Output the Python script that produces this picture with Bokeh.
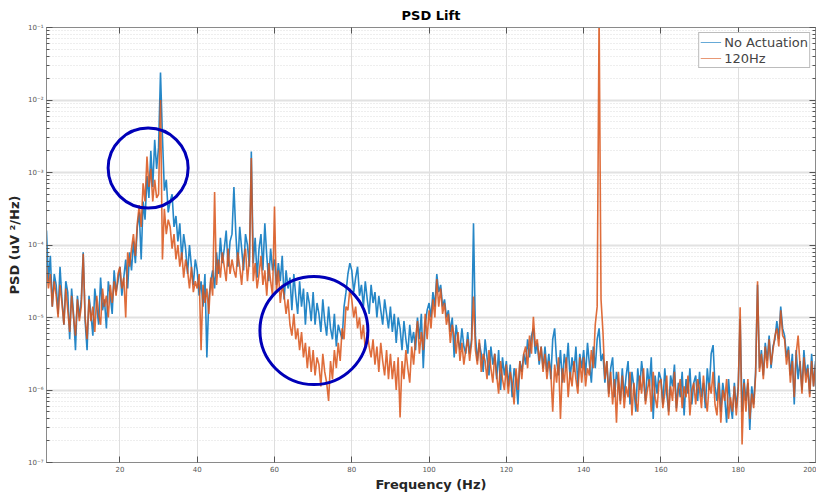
import numpy as np
from bokeh.plotting import figure
from bokeh.models import (FixedTicker, CustomJSTickFormatter, LogAxis, LinearAxis,
                          Range1d, ColumnDataSource, Legend, LegendItem)
from bokeh.embed import file_html
from bokeh.resources import INLINE

# ---------------- data ----------------
# PSD bins: 1.0 Hz to 200.0 Hz, 0.5 Hz apart
FREQ_START_HZ = 1.0
FREQ_STEP_HZ = 0.5

# log10(PSD) of "No Actuation"
no_act_log10_001_050 = [
    -3.8, -4.5, -4.15, -4.85, -4.4, -4.55, -4.95, -4.3, -4.75, -5.1, -4.5, -4.65, -5.3, -4.6, -4.95, -5.45, -4.7, -5.0,
    -4.75, -4.1, -5.05, -5.45, -4.7, -4.95, -5.25, -4.6, -4.85, -5.1, -4.45, -4.9, -4.75, -5.15, -4.5, -4.7, -4.95, -4.35, -4.65, -4.5,
    -4.3, -4.7, -4.45, -4.2, -4.6, -4.1, -4.35, -3.95, -4.25, -3.75, -3.55, -4.2, -3.4, -3.65, -3.05, -3.35, -2.7, -3.2, -2.55, -2.95,
    -2.65, -1.62, -2.5, -3.25, -3.1, -3.55, -3.4, -3.3, -3.75, -3.6, -3.95, -3.7, -4.2, -3.85, -4.05, -4.4, -4.0, -4.3, -4.55, -4.2,
    -4.35, -4.7, -4.5, -4.85, -4.4, -5.55, -4.75, -4.5, -4.35, -4.6, -4.1, -4.4, -3.9, -4.25, -4.05, -3.8, -4.3, -3.95, -3.85, -3.2,
]
no_act_log10_050_100 = [
    -3.85, -4.3, -3.75, -4.05, -4.35, -3.85, -4.0, -4.3, -2.71, -4.25, -3.9, -4.45, -4.05, -3.85, -4.35, -3.7, -4.15, -4.5, -4.05, -4.35,
    -4.2, -4.55, -4.25, -4.5, -4.15, -4.75, -4.35, -4.6, -4.45, -4.9, -4.4, -4.7, -4.95, -4.5, -4.85, -4.6, -5.1, -4.65, -4.8, -5.05,
    -4.65, -5.1, -4.8, -4.95, -5.2, -4.75, -5.05, -5.25, -4.85, -5.15, -5.3, -4.95, -5.4, -5.1, -5.2, -5.3, -4.85, -4.65, -4.4, -4.25,
    -4.35, -4.65, -4.45, -4.3, -4.7, -4.55, -4.85, -4.5, -4.75, -4.95, -4.55, -4.8, -4.65, -5.0, -4.7, -4.9, -5.1, -4.75, -4.95, -5.15,
    -4.85, -5.2, -4.95, -5.35, -5.0, -5.15, -5.45, -5.05, -5.3, -5.5, -5.1, -5.35, -5.2, -5.45, -5.0, -5.3, -4.95, -5.7, -5.1, -4.9,
]
no_act_log10_100_150 = [
    -4.8, -5.0, -4.65, -4.85, -4.4, -4.65, -4.55, -4.85, -4.75, -5.0, -4.9, -5.2, -5.0, -5.55, -5.1, -5.3, -5.45, -5.15, -5.4, -5.5,
    -5.2, -5.5, -5.3, -3.7, -5.25, -5.6, -5.35, -5.5, -5.75, -5.3, -5.55, -5.8, -5.4, -5.65, -5.5, -5.85, -5.45, -6.0, -5.55, -5.8,
    -5.6, -5.95, -5.65, -6.1, -5.7, -5.85, -6.2, -5.6, -5.75, -5.5, -5.65, -5.3, -5.55, -5.25, -5.15, -5.5, -5.35, -5.65, -5.4, -5.7,
    -5.4, -5.75, -5.5, -5.85, -5.3, -5.15, -5.6, -5.8, -5.45, -5.9, -5.5, -5.7, -5.35, -5.85, -5.55, -5.75, -5.4, -5.95, -5.5, -5.7,
    -5.45, -5.8, -5.35, -5.65, -5.9, -5.4, -5.7, -5.3, -5.15, -5.6, -5.5, -5.9, -5.6, -6.05, -5.7, -5.55, -6.1, -5.75, -5.9, -6.15,
]
no_act_log10_150_200 = [
    -5.7, -6.1, -5.8, -5.6, -6.2, -5.75, -5.95, -6.3, -5.7, -6.0, -5.6, -5.85, -6.15, -5.7, -5.95, -5.55, -6.4, -5.8, -6.05, -5.75,
    -5.85, -6.2, -5.7, -6.05, -6.3, -5.8, -5.95, -5.65, -6.25, -5.9, -6.1, -5.75, -6.35, -5.85, -6.05, -5.7, -6.2, -5.9, -5.8, -6.15,
    -5.75, -6.1, -5.9, -6.25, -5.7, -6.0, -5.5, -5.38, -5.95, -6.15, -5.8, -6.3, -5.9, -6.1, -6.45, -5.85, -6.2, -6.4, -5.9, -6.25,
    -5.95, -5.02, -6.3, -5.85, -6.15, -5.9, -6.55, -5.95, -6.2, -5.75, -4.55, -5.7, -5.45, -5.8, -5.35, -5.6, -5.25, -5.7, -5.4, -5.3,
    -5.05, -5.3, -4.85, -5.15, -5.25, -5.55, -5.4, -5.8, -5.5, -6.2, -5.45, -5.85, -5.6, -6.0, -5.45, -5.8, -5.65, -6.05, -5.5, -5.95, -5.6,
]

# log10(PSD) of "120Hz" actuation
act120_log10_001_050 = [
    -4.3, -4.6, -4.4, -4.85, -4.5, -4.7, -5.0, -4.55, -4.8, -5.1, -4.6, -4.9, -5.2, -4.7, -5.0, -5.25, -4.75, -5.05,
    -4.85, -4.12, -5.0, -5.3, -4.75, -5.05, -4.85, -5.2, -4.7, -4.95, -5.1, -4.6, -4.85, -4.7, -5.0, -4.55, -4.8, -4.5, -4.7, -4.4,
    -4.3, -4.6, -4.45, -5.0, -4.1, -4.3, -4.05, -3.85, -4.15, -3.7, -3.45, -3.75, -3.15, -3.4, -2.78, -3.2, -2.95, -3.4, -3.1, -3.35,
    -3.3, -2.0, -4.2, -3.5, -3.85, -3.65, -3.75, -4.05, -3.85, -4.2, -4.0, -4.3, -4.1, -4.45, -4.2, -4.35, -4.6, -4.3, -4.65, -4.5,
    -4.6, -4.4, -5.45, -4.55, -4.8, -4.6, -4.95, -4.45, -4.7, -3.27, -4.55, -4.2, -4.45, -4.1, -4.3, -4.5, -4.05, -4.4, -4.2, -4.35,
]
act120_log10_050_100 = [
    -4.45, -4.1, -4.3, -4.55, -4.2, -4.05, -4.5, -4.2, -2.8, -4.5, -4.25, -4.6, -4.4, -4.15, -4.55, -4.35, -4.7, -4.25, -4.5, -4.7,
    -3.47, -4.65, -4.35, -4.8, -4.55, -4.7, -4.95, -4.75, -5.1, -5.25, -4.95, -5.3, -5.15, -5.45, -5.2, -5.55, -5.35, -5.7, -5.4, -5.75,
    -5.45, -5.8, -5.55, -5.65, -5.95, -5.5, -5.75, -5.9, -6.15, -5.6, -5.85, -5.45, -5.7, -5.35, -5.6, -5.15, -5.3, -4.85, -4.9, -4.6,
    -4.75, -5.0, -4.85, -5.15, -5.0, -5.3, -5.1, -5.45, -5.2, -5.4, -5.55, -5.3, -5.65, -5.4, -5.75, -5.35, -5.6, -5.8, -5.45, -5.85,
    -5.5, -5.85, -5.6, -6.0, -5.55, -6.38, -5.6, -5.85, -5.45, -5.7, -5.9, -5.4, -5.65, -5.3, -5.05, -5.5, -5.2, -5.45, -4.95, -5.3,
]
act120_log10_100_150 = [
    -4.9, -5.15, -4.75, -5.0, -4.47, -4.85, -4.6, -4.95, -4.8, -5.1, -4.95, -5.35, -5.1, -5.25, -5.5, -5.2, -5.6, -5.35, -5.65, -5.45,
    -5.3, -5.6, -5.35, -4.71, -5.45, -5.65, -5.3, -5.75, -5.5, -5.6, -5.85, -5.45, -5.7, -5.9, -5.5, -5.8, -6.05, -5.6, -5.85, -6.0,
    -5.65, -6.05, -5.75, -5.9, -6.2, -5.7, -6.0, -5.6, -5.85, -5.5, -5.4, -5.7, -5.25, -5.5, -4.99, -5.4, -5.3, -5.6, -5.4, -5.75,
    -5.5, -5.85, -5.6, -5.75, -6.3, -5.65, -5.9, -5.55, -6.4, -5.7, -5.9, -5.55, -6.1, -5.75, -5.95, -5.6, -5.85, -6.05, -5.55, -5.9,
    -5.55, -5.95, -5.7, -5.8, -5.45, -5.7, -5.1, -4.85, -0.8, -4.75, -5.2, -5.85, -5.6, -6.1, -5.75, -6.2, -5.85, -6.45, -5.75, -6.2,
]
act120_log10_150_200 = [
    -5.8, -6.25, -5.95, -6.1, -5.75, -6.35, -5.9, -6.15, -6.3, -5.8, -6.05, -5.7, -6.2, -6.0, -5.85, -6.3, -5.75, -6.1, -6.25, -5.9,
    -5.85, -6.25, -6.05, -5.8, -6.35, -5.95, -6.15, -5.75, -6.3, -6.0, -5.85, -6.25, -5.95, -6.1, -5.8, -6.35, -6.0, -5.9, -6.2, -5.85,
    -6.0, -6.25, -5.8, -6.1, -6.3, -5.9, -6.05, -5.75, -6.2, -6.35, -5.9, -6.45, -6.0, -6.15, -5.85, -6.4, -6.1, -6.3, -5.95, -6.35,
    -6.0, -4.86, -6.75, -5.9, -6.3, -5.85, -6.4, -6.05, -6.25, -5.8, -4.5, -5.75, -5.5, -5.85, -5.4, -5.7, -5.3, -5.65, -5.45, -5.25,
    -5.15, -5.4, -4.9, -5.25, -5.3, -5.65, -5.45, -5.9, -5.6, -6.1, -5.5, -5.25, -5.65, -6.05, -5.55, -5.9, -5.7, -6.1, -5.6, -5.95, -5.65,
]

# hand-drawn highlight circles (centre in data coordinates)
highlight_freq_hz = [27.3, 70.2]
highlight_psd = [1.15e-3, 6.6e-6]

series_names = ["No Actuation", "120Hz"]
x_ticks = [20, 40, 60, 80, 100, 120, 140, 160, 180, 200]
y_decades = [-7, -6, -5, -4, -3, -2, -1]

# ---------------- assemble ----------------
no_act_log = np.array(no_act_log10_001_050 + no_act_log10_050_100 + no_act_log10_100_150 + no_act_log10_150_200)
act_log = np.array(act120_log10_001_050 + act120_log10_050_100 + act120_log10_100_150 + act120_log10_150_200)
assert len(no_act_log) == len(act_log) == 399, (len(no_act_log), len(act_log))
freq = FREQ_START_HZ + FREQ_STEP_HZ * np.arange(len(no_act_log))

src = ColumnDataSource(dict(f=freq, no_act=10.0 ** no_act_log, act=10.0 ** act_log))

BLUE = "#0072BD"
ORANGE = "#D95319"
FONT = "DejaVu Sans"

p = figure(width=816, height=494, y_axis_type="log",
           x_range=Range1d(1, 200), y_range=Range1d(1e-7, 1e-1),
           output_backend="svg", toolbar_location=None,
           min_border_left=46, min_border_right=1, min_border_top=27, min_border_bottom=29)

p.background_fill_color = "white"
p.border_fill_color = "white"
p.outline_line_color = "#8a8a8a"

p.line("f", "no_act", source=src, line_color=BLUE, line_width=1.6, line_alpha=0.85,
       line_join="bevel")
p.line("f", "act", source=src, line_color=ORANGE, line_width=1.6, line_alpha=0.85,
       line_join="bevel")

# thin swatches for the legend (a single undefined point, never drawn in the plot)
nan_src = ColumnDataSource(dict(x=[np.nan], y=[np.nan]))
leg_blue = p.line("x", "y", source=nan_src, line_color=BLUE, line_width=1.2, line_alpha=0.6)
leg_orange = p.line("x", "y", source=nan_src, line_color=ORANGE, line_width=1.2, line_alpha=0.6)

p.scatter(highlight_freq_hz, highlight_psd, marker="circle", size=[80, 108],
          fill_alpha=0, line_color="#0000b8", line_width=3)

# ticks
y_major = [10.0 ** d for d in y_decades]
y_minor = [m * 10.0 ** d for d in y_decades[:-1] for m in range(2, 10)]
yticker = FixedTicker(ticks=y_major, minor_ticks=y_minor)
xticker = FixedTicker(ticks=x_ticks)

sup_js = r"""
const sup = {"-": "\u207b", "0": "\u2070", "1": "\u00b9", "2": "\u00b2", "3": "\u00b3",
             "4": "\u2074", "5": "\u2075", "6": "\u2076", "7": "\u2077", "8": "\u2078", "9": "\u2079"};
const e = Math.round(Math.log10(tick));
return "10" + String(e).split("").map(c => sup[c]).join("");
"""

def style_axis(ax):
    ax.axis_line_color = "#8a8a8a"
    ax.major_tick_line_color = "#555555"
    ax.minor_tick_line_color = "#555555"
    ax.major_tick_in = 6
    ax.major_tick_out = 0
    ax.minor_tick_in = 3
    ax.minor_tick_out = 0
    ax.major_label_text_font = FONT
    ax.major_label_text_font_size = "7px"
    ax.major_label_text_color = "#555555"
    ax.axis_label_text_font = FONT
    ax.axis_label_text_font_size = "13px"
    ax.axis_label_text_font_style = "bold"
    ax.axis_label_text_color = "#262626"

xa = p.xaxis[0]
xa.ticker = xticker
xa.axis_label = "Frequency (Hz)"
style_axis(xa)
xa.minor_tick_in = 0
xa.major_label_standoff = 3
xa.axis_label_standoff = 2

ya = p.yaxis[0]
ya.ticker = yticker
ya.formatter = CustomJSTickFormatter(code=sup_js)
ya.axis_label = "PSD (uV \u00b2/Hz)"
style_axis(ya)
ya.major_label_standoff = 3
ya.axis_label_standoff = 3

blank = CustomJSTickFormatter(code="return '';")
top = LinearAxis(ticker=xticker, formatter=blank)
style_axis(top)
top.minor_tick_in = 0
top.major_label_standoff = 0
p.add_layout(top, "above")

right = LogAxis(ticker=yticker, formatter=blank)
style_axis(right)
right.major_label_standoff = 0
p.add_layout(right, "right")

# grids
p.xgrid.ticker = xticker
p.xgrid.grid_line_color = "#dedede"
p.ygrid.ticker = yticker
p.ygrid.grid_line_color = "#e2e2e2"
p.ygrid.grid_line_width = 2
p.ygrid.minor_grid_line_color = "#dcdcdc"
p.ygrid.minor_grid_line_dash = "1 2"

# title
p.title.text = "PSD Lift"
p.title.align = "center"
p.title.text_font = FONT
p.title.text_font_size = "13px"
p.title.text_font_style = "bold"
p.title.text_color = "#000000"

# legend
lg = Legend(items=[LegendItem(label=series_names[0], renderers=[leg_blue]),
                   LegendItem(label=series_names[1], renderers=[leg_orange])])
lg.location = "top_right"
lg.margin = 5
lg.padding = 1
lg.spacing = 0
lg.label_text_font = FONT
lg.label_text_font_size = "13px"
lg.label_height = 16
lg.glyph_height = 16
lg.glyph_width = 21
lg.label_standoff = 3
lg.border_line_color = "#7a7a7a"
lg.border_line_width = 1
lg.background_fill_alpha = 1.0
p.add_layout(lg, "center")

open("out.html", "w").write(file_html(p, INLINE))
